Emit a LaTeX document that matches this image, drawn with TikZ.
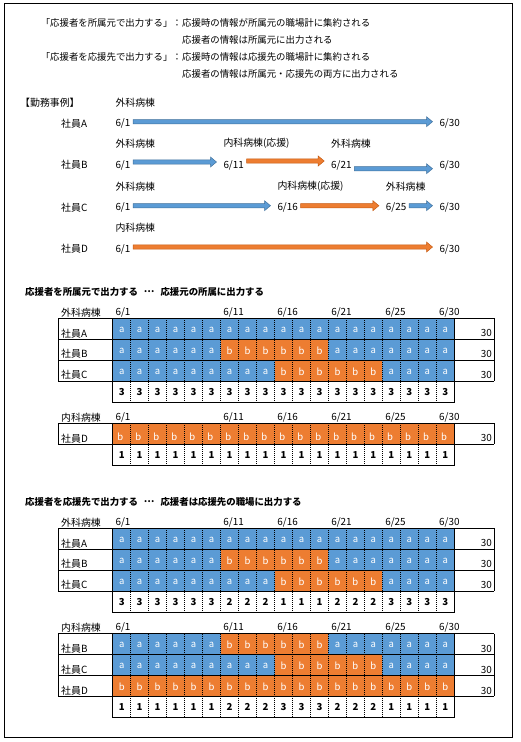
\documentclass[tikz,border=0pt]{standalone}
\usepackage{fontspec}
\setmainfont{Noto Sans CJK JP}
\usetikzlibrary{calc}
\definecolor{ca}{HTML}{5B9BD5}
\definecolor{cb}{HTML}{ED7D31}
\definecolor{cad}{HTML}{41719C}
\definecolor{cbd}{HTML}{C55A11}
% block arrow between two named nodes
\newcommand\blkarrow[4]{%
  \draw[fill=#3,draw=#3d,line width=0.5pt] let \p1=([xshift=2.6pt,yshift=#4]#1.east), \p2=([xshift=-6.8pt]#2.west) in
   (\x1,\y1+2.15pt) -- (\x2-6pt,\y1+2.15pt) -- (\x2-6pt,\y1+5pt) -- (\x2,\y1) -- (\x2-6pt,\y1-5pt) -- (\x2-6pt,\y1-2.15pt) -- (\x1,\y1-2.15pt) -- cycle;}
% one coloured row: #1 name, #2 top y, #3 label, #4 list, #5 extra text style
\newcommand\cellrow[5]{%
  \foreach \v [count=\i from 0] in {#4} {
    \fill[c\v] ({112.7+\i*17.98},#2) rectangle ({112.7+(\i+1)*17.98},#2+20.9);
    \node[celltxt,#5] (#1-\i) at ({112.7+(\i+0.5)*17.98},#2+11.5) {\v};
  }
  \node[txt] (#1-lab) at (61,#2+15) {#3};
  \node[tot] (#1-tot) at (492,#2+15) {30};
}
% count row: #1 name, #2 top y, #3 list
\newcommand\countrow[3]{%
  \foreach \v [count=\i from 0] in {#3}
    \node[cnt] (#1-\i) at ({112.7+(\i+0.5)*17.98},#2+11) {\v};
}
% grid: #1 top y, #2 number of rows
\newcommand\tgrid[2]{%
  \pgfmathsetmacro\tb{#1+#2*20.9}
  \pgfmathsetmacro\tc{#1+(#2+1)*20.9}
  \foreach \k in {1,...,18} \draw[dotline] ({112.7+\k*17.98},#1) -- ({112.7+\k*17.98},\tc);
  \foreach \k in {0,...,#2} \draw[gline] (58.3,{#1+\k*20.9}) -- (494.3,{#1+\k*20.9});
  \draw[gline] (58.3,#1) -- (58.3,\tb);
  \draw[gline] (494.3,#1) -- (494.3,\tb);
  \draw[gline] (112.7,#1) -- (112.7,\tc) -- (454.3,\tc) -- (454.3,#1);
}
% labels above a table: #1 name, #2 y, #3 ward
\newcommand\tlabels[3]{%
  \node[txt] (#1w) at (61,#2) {#3};
  \foreach \k/\d in {0/1,6/11,9/16,12/21,15/25,18/30}
    \node[txt] (#1d\d) at ({112.7+\k*17.98+2.7},#2) {6/\d};
}
\begin{document}
\begin{tikzpicture}[x=1pt,y=-1pt,
  txt/.style={inner sep=0pt,anchor=west,font=\fontsize{9.9}{11}\selectfont},
  hdr/.style={inner sep=0pt,anchor=west,font=\fontsize{9.4}{11}\selectfont},
  ttl/.style={inner sep=0pt,anchor=west,font=\fontsize{9.4}{11}\selectfont\bfseries},
  celltxt/.style={inner sep=0pt,text=white,font=\fontsize{9.5}{10}\selectfont},
  cnt/.style={inner sep=0pt,font=\fontsize{9.6}{10}\selectfont\bfseries},
  tot/.style={inner sep=0pt,anchor=east,font=\fontsize{9.9}{11}\selectfont},
  gline/.style={line width=0.8pt},
  dotline/.style={line width=0.7pt,dash pattern=on 0.7pt off 1.3pt}]
\useasboundingbox (0,0) rectangle (520,742);
\draw[line width=0.8pt] (4.3,3.3) rectangle (512.3,737.7);

% header
\node[hdr,anchor=east] (h1a) at (182,23) {「応援者を所属元で出力する」：};
\node[hdr] (h1b) at (182,23) {応援時の情報が所属元の職場計に集約される};
\node[hdr] (h2) at (182,40.2) {応援者の情報は所属元に出力される};
\node[hdr,anchor=east] (h3a) at (182,57.3) {「応援者を応援先で出力する」：};
\node[hdr] (h3b) at (182,57.3) {応援時の情報は応援先の職場計に集約される};
\node[hdr] (h4) at (182,74) {応援者の情報は所属元・応援先の両方に出力される};

% work examples
\node[txt] (jrei) at (20,102.7) {【勤務事例】};
% A
\node[txt] (aw1) at (115.3,102.7) {外科病棟};
\node[txt] (an) at (61,123.3) {社員A};
\node[txt] (a1) at (115.3,123.3) {6/1};
\node[txt] (a30) at (439.3,123.3) {6/30};
\blkarrow{a1}{a30}{ca}{1.6pt}
% B
\node[txt] (bw1) at (115.3,143.3) {外科病棟};
\node[txt] (bw2) at (223.3,143.3) {内科病棟(応援)};
\node[txt] (bw3) at (331,143.3) {外科病棟};
\node[txt] (bn) at (61,165) {社員B};
\node[txt] (b1) at (115.3,165) {6/1};
\node[txt] (b11) at (223.3,165) {6/11};
\node[txt] (b21) at (331,165) {6/21};
\node[txt] (b30) at (439.3,165) {6/30};
\blkarrow{b1}{b11}{ca}{3pt}
\blkarrow{b11}{b21}{cb}{4pt}
\blkarrow{b21}{b30}{ca}{-3.7pt}
% C
\node[txt] (cw1) at (115.3,186.7) {外科病棟};
\node[txt] (cw2) at (277.3,186.7) {内科病棟(応援)};
\node[txt] (cw3) at (385.7,186.7) {外科病棟};
\node[txt] (cn) at (61,207.3) {社員C};
\node[txt] (c1) at (115.3,207.3) {6/1};
\node[txt] (c16) at (277.3,207.3) {6/16};
\node[txt] (c25) at (385.7,207.3) {6/25};
\node[txt] (c30) at (439.3,207.3) {6/30};
\blkarrow{c1}{c16}{ca}{1.6pt}
\blkarrow{c16}{c25}{cb}{1.6pt}
\blkarrow{c25}{c30}{ca}{1.6pt}
% D
\node[txt] (dw1) at (115.3,227.7) {内科病棟};
\node[txt] (dn) at (61,249) {社員D};
\node[txt] (d1) at (115.3,249) {6/1};
\node[txt] (d30) at (439.3,249) {6/30};
\blkarrow{d1}{d30}{cb}{2pt}

% section 1
\node[ttl] (s1) at (25,291.7) {応援者を所属元で出力する\hspace{6pt}\raisebox{3pt}{…}\hspace{6pt}応援元の所属に出力する};
\tlabels{ta}{312.3}{外科病棟}
\cellrow{taA}{318.3}{社員A}{a,a,a,a,a,a,a,a,a,a,a,a,a,a,a,a,a,a,a}{}
\cellrow{taB}{339.2}{社員B}{a,a,a,a,a,a,b,b,b,b,b,b,a,a,a,a,a,a,a}{}
\cellrow{taC}{360.1}{社員C}{a,a,a,a,a,a,a,a,a,b,b,b,b,b,b,a,a,a,a}{}
\countrow{taN}{381}{3,3,3,3,3,3,3,3,3,3,3,3,3,3,3,3,3,3,3}
\tgrid{318.3}{3}

\tlabels{tb}{417.3}{内科病棟}
\cellrow{tbD}{423.3}{社員D}{b,b,b,b,b,b,b,b,b,b,b,b,b,b,b,b,b,b,b}{anchor=west,xshift=-4.4pt,yshift=-1.7pt}
\countrow{tbN}{444.2}{1,1,1,1,1,1,1,1,1,1,1,1,1,1,1,1,1,1,1}
\tgrid{423.3}{1}

% section 2
\node[ttl] (s2) at (25,501.7) {応援者を応援先で出力する\hspace{6pt}\raisebox{3pt}{…}\hspace{6pt}応援者は応援先の職場に出力する};
\tlabels{tc}{522.7}{外科病棟}
\cellrow{tcA}{528.3}{社員A}{a,a,a,a,a,a,a,a,a,a,a,a,a,a,a,a,a,a,a}{}
\cellrow{tcB}{549.2}{社員B}{a,a,a,a,a,a,b,b,b,b,b,b,a,a,a,a,a,a,a}{}
\cellrow{tcC}{570.1}{社員C}{a,a,a,a,a,a,a,a,a,b,b,b,b,b,b,a,a,a,a}{}
\countrow{tcN}{591}{3,3,3,3,3,3,2,2,2,1,1,1,2,2,2,3,3,3,3}
\tgrid{528.3}{3}

\tlabels{td}{627.5}{内科病棟}
\cellrow{tdB}{633.7}{社員B}{a,a,a,a,a,a,b,b,b,b,b,b,a,a,a,a,a,a,a}{}
\cellrow{tdC}{654.6}{社員C}{a,a,a,a,a,a,a,a,a,b,b,b,b,b,b,a,a,a,a}{}
\cellrow{tdD}{675.5}{社員D}{b,b,b,b,b,b,b,b,b,b,b,b,b,b,b,b,b,b,b}{}
\countrow{tdN}{696.4}{1,1,1,1,1,1,2,2,2,3,3,3,2,2,2,1,1,1,1}
\tgrid{633.7}{3}
\end{tikzpicture}
\end{document}
